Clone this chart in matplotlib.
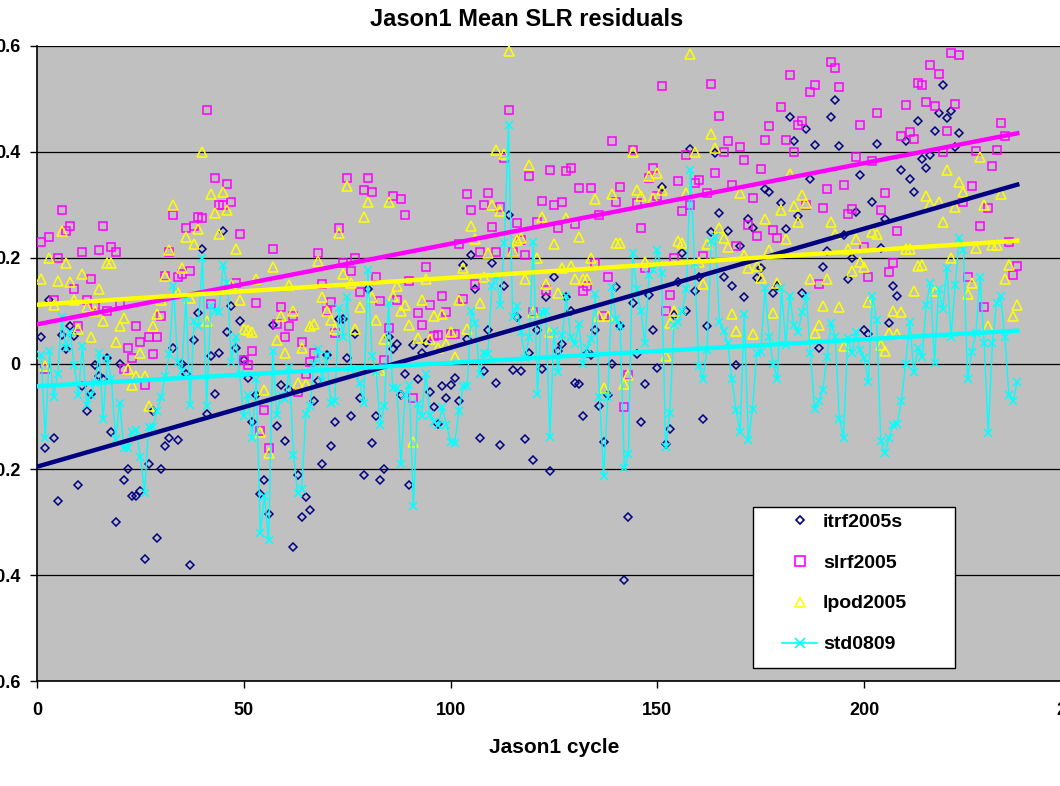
import numpy as np
import matplotlib.pyplot as plt
from matplotlib.lines import Line2D
from matplotlib.patches import Rectangle

plt.rcParams['font.family'] = ['Liberation Sans', 'DejaVu Sans']
plt.rcParams['font.weight'] = 'bold'

# Jason1 cycle numbers
cycles = np.arange(1, 238)

# mean SLR residuals per cycle
itrf2005s = [
    0.05, -0.16, 0.12, -0.14, -0.26, 0.054, 0.027, 0.07, 0.052, -0.23,
    -0.043, -0.09, -0.058, -0.003, -0.024, -0.03, 0.01, -0.13, -0.30, 0.0,
    -0.22, -0.20, -0.25, -0.25, -0.24, -0.37, -0.19, -0.09, -0.33, -0.20,
    -0.156, -0.14, 0.03, -0.144, 0.0, -0.02, -0.38, 0.044, 0.095, 0.217,
    -0.095, 0.014, -0.058, 0.02, 0.25, 0.06, 0.108, 0.03, 0.08, 0.007,
    -0.027, -0.11, -0.06, -0.247, -0.22, -0.285, 0.073, -0.119, -0.04, -0.146,
    -0.05, -0.346, -0.21, -0.29, -0.253, -0.277, -0.07, -0.034, -0.19, 0.017,
    -0.155, -0.11, 0.085, 0.085, 0.01, -0.10, 0.056, -0.066, -0.21, 0.14,
    -0.15, -0.10, -0.22, -0.20, 0.05, 0.028, 0.037, -0.06, -0.02, -0.23,
    0.035, -0.03, 0.02, 0.038, -0.053, -0.083, -0.114, -0.043, -0.065, -0.04,
    -0.028, -0.07, 0.186, 0.047, 0.205, 0.14, -0.14, -0.014, 0.063, 0.19,
    -0.036, -0.154, 0.147, 0.28, -0.012, 0.088, -0.014, -0.142, 0.02, -0.183,
    0.063, -0.01, 0.125, -0.203, 0.163, 0.024, 0.036, 0.125, 0.10, -0.037,
    -0.039, -0.10, 0.02, 0.017, 0.063, -0.08, -0.149, -0.06, 0.0, 0.144,
    0.07, -0.41, -0.29, 0.115, 0.018, -0.11, -0.039, 0.13, 0.064, -0.009,
    0.334, -0.153, -0.123, 0.092, 0.154, 0.208, 0.10, 0.405, 0.137, 0.164,
    -0.104, 0.071, 0.249, 0.397, 0.284, 0.164, 0.25, 0.146, -0.003, 0.222,
    0.126, 0.273, 0.256, 0.162, 0.181, 0.329, 0.325, 0.133, 0.146, 0.303,
    0.254, 0.465, 0.42, 0.279, 0.133, 0.443, 0.348, 0.413, 0.03, 0.183,
    0.212, 0.465, 0.498, 0.411, 0.243, 0.159, 0.199, 0.286, 0.356, 0.063,
    0.056, 0.306, 0.414, 0.219, 0.273, 0.077, 0.146, 0.128, 0.365, 0.42,
    0.348, 0.324, 0.458, 0.386, 0.37, 0.394, 0.439, 0.473, 0.527, 0.463,
    0.477, 0.41, 0.435,
] + [np.nan] * 14

slrf2005 = [
    0.23, -0.01, 0.24, 0.12, 0.20, 0.29, 0.25, 0.26, 0.14, 0.07,
    0.21, 0.12, 0.16, 0.11, 0.215, 0.26, 0.10, 0.22, 0.21, 0.115,
    -0.01, 0.03, 0.01, 0.07, 0.04, -0.04, 0.05, 0.018, 0.05, 0.09,
    0.165, 0.21, 0.28, 0.163, 0.17, 0.256, 0.174, 0.26, 0.277, 0.275,
    0.48, 0.112, 0.35, 0.30, 0.30, 0.34, 0.306, 0.153, 0.244, 0.007,
    -0.003, 0.024, 0.115, -0.127, -0.088, -0.16, 0.217, 0.075, 0.106, 0.05,
    0.07, 0.09, -0.054, 0.04, -0.02, 0.002, 0.02, 0.208, 0.15, 0.10,
    0.117, 0.058, 0.256, 0.19, 0.35, 0.174, 0.20, 0.135, 0.327, 0.35,
    0.325, 0.164, 0.118, 0.006, 0.067, 0.317, 0.12, 0.31, 0.28, 0.155,
    -0.066, 0.096, 0.072, 0.183, 0.11, 0.052, 0.054, 0.127, 0.098, 0.056,
    0.056, 0.225, 0.121, 0.32, 0.29, 0.15, 0.21, 0.30, 0.323, 0.258,
    0.21, 0.295, 0.388, 0.48, 0.21, 0.266, 0.234, 0.205, 0.355, 0.098,
    0.268, 0.307, 0.139, 0.366, 0.30, 0.256, 0.305, 0.363, 0.37, 0.264,
    0.332, 0.137, 0.146, 0.332, 0.19, 0.28, 0.09, 0.163, 0.42, 0.305,
    0.334, -0.083, -0.021, 0.403, 0.303, 0.257, 0.181, 0.35, 0.37, 0.317,
    0.525, 0.10, 0.13, 0.20, 0.344, 0.288, 0.394, 0.30, 0.342, 0.347,
    0.203, 0.322, 0.529, 0.36, 0.467, 0.40, 0.42, 0.338, 0.222, 0.41,
    0.384, 0.262, 0.313, 0.241, 0.367, 0.422, 0.448, 0.253, 0.238, 0.485,
    0.422, 0.545, 0.40, 0.45, 0.458, 0.30, 0.513, 0.527, 0.15, 0.293,
    0.33, 0.57, 0.559, 0.523, 0.337, 0.283, 0.292, 0.39, 0.45, 0.221,
    0.164, 0.382, 0.473, 0.291, 0.323, 0.173, 0.189, 0.251, 0.43, 0.489,
    0.438, 0.425, 0.53, 0.527, 0.494, 0.565, 0.486, 0.547, 0.40, 0.44,
    0.587, 0.49, 0.583, 0.305, 0.164, 0.336, 0.401, 0.26, 0.107, 0.293,
    0.373, 0.404, 0.454, 0.43, 0.229, 0.168, 0.185,
]

lpod2005 = [
    0.16, -0.005, 0.20, 0.11, 0.156, 0.25, 0.19, 0.154, 0.12, 0.066,
    0.17, 0.106, 0.05, 0.10, 0.14, 0.08, 0.19, 0.19, 0.04, 0.07,
    0.086, -0.01, -0.04, -0.024, 0.02, -0.024, -0.08, 0.071, 0.093, 0.12,
    0.165, 0.214, 0.30, 0.134, 0.18, 0.24, 0.124, 0.226, 0.254, 0.40,
    0.08, 0.32, 0.285, 0.244, 0.325, 0.29, 0.15, 0.217, 0.12, 0.066,
    0.063, 0.06, 0.16, -0.13, -0.05, -0.17, 0.183, 0.045, 0.09, 0.02,
    0.149, 0.10, -0.036, 0.03, -0.038, 0.07, 0.075, 0.193, 0.125, 0.10,
    0.083, 0.066, 0.247, 0.17, 0.336, 0.152, 0.066, 0.106, 0.276, 0.306,
    0.125, 0.083, -0.012, 0.047, 0.306, 0.127, 0.147, 0.10, 0.11, 0.073,
    -0.148, 0.049, 0.12, 0.16, 0.047, 0.09, 0.03, 0.094, 0.037, 0.06,
    0.013, 0.12, 0.18, 0.066, 0.26, 0.235, 0.115, 0.164, 0.208, 0.30,
    0.403, 0.288, 0.395, 0.59, 0.212, 0.234, 0.237, 0.16, 0.375, 0.097,
    0.20, 0.277, 0.15, 0.06, 0.225, 0.133, 0.18, 0.275, 0.185, 0.16,
    0.24, 0.16, 0.16, 0.20, 0.31, 0.09, -0.047, 0.09, 0.32, 0.228,
    0.228, -0.039, -0.022, 0.40, 0.327, 0.317, 0.191, 0.355, 0.313, 0.36,
    0.327, 0.015, 0.076, 0.10, 0.232, 0.228, 0.322, 0.584, 0.40, 0.191,
    0.15, 0.225, 0.434, 0.408, 0.257, 0.237, 0.22, 0.093, 0.062, 0.323,
    0.205, 0.181, 0.056, 0.185, 0.162, 0.274, 0.215, 0.095, 0.152, 0.291,
    0.235, 0.359, 0.298, 0.268, 0.319, 0.303, 0.159, 0.058, 0.073, 0.108,
    0.16, 0.268, 0.244, 0.106, 0.033, 0.217, 0.175, 0.235, 0.192, 0.183,
    0.116, 0.248, 0.244, 0.035, 0.024, 0.057, 0.10, 0.056, 0.098, 0.217,
    0.217, 0.137, 0.185, 0.187, 0.317, 0.302, 0.137, 0.306, 0.267, 0.365,
    0.20, 0.295, 0.343, 0.325, 0.132, 0.152, 0.219, 0.39, 0.30, 0.071,
    0.223, 0.223, 0.321, 0.16, 0.187, 0.089, 0.111,
]

std0809 = [
    0.017, -0.14, 0.024, -0.064, -0.02, 0.088, 0.03, 0.06, -0.003, -0.06,
    0.034, -0.078, -0.06, -0.037, 0.02, -0.105, 0.01, -0.03, -0.142, -0.075,
    -0.16, -0.16, -0.13, -0.125, -0.176, -0.244, -0.12, -0.12, -0.09, -0.064,
    -0.024, 0.018, 0.146, 0.003, -0.014, 0.125, -0.078, 0.08, 0.07, 0.20,
    -0.08, 0.108, 0.10, 0.098, 0.186, 0.152, 0.003, 0.05, -0.02, -0.10,
    -0.06, -0.14, -0.03, -0.32, -0.25, -0.334, 0.024, -0.098, -0.06, -0.068,
    -0.007, -0.173, -0.244, -0.237, -0.095, -0.08, 0.0, 0.027, -0.034, 0.017,
    -0.075, -0.07, 0.105, 0.05, 0.125, -0.01, -0.02, -0.037, -0.075, 0.176,
    0.015, -0.016, -0.117, -0.08, 0.115, -0.046, -0.046, -0.19, -0.06, -0.04,
    -0.27, -0.077, -0.10, -0.019, -0.098, -0.11, -0.117, -0.083, -0.117, -0.148,
    -0.151, -0.09, -0.043, -0.043, 0.10, 0.076, -0.02, 0.02, 0.018, 0.147,
    0.166, 0.11, 0.227, 0.45, 0.088, 0.108, 0.06, 0.01, 0.05, 0.23,
    -0.058, 0.098, 0.10, -0.138, 0.061, -0.016, 0.054, 0.127, 0.051, 0.037,
    0.075, 0.0, 0.03, 0.047, 0.131, -0.064, -0.212, -0.064, 0.144, 0.085,
    0.071, -0.197, -0.171, 0.208, 0.14, 0.10, 0.039, 0.167, 0.176, 0.215,
    0.171, -0.158, -0.094, 0.073, 0.079, 0.10, 0.14, 0.365, 0.188, -0.005,
    -0.029, 0.025, 0.232, 0.239, 0.079, 0.062, 0.039, -0.03, -0.087, -0.13,
    0.093, -0.144, -0.086, 0.019, 0.022, 0.143, 0.051, 0.0, -0.03, 0.143,
    0.035, 0.128, 0.073, 0.06, 0.098, 0.128, 0.019, -0.086, -0.07, -0.05,
    0.013, 0.076, 0.051, -0.105, -0.14, 0.048, 0.019, 0.06, 0.025, 0.01,
    -0.035, 0.127, 0.083, -0.146, -0.17, -0.14, -0.116, -0.114, -0.07, 0.0,
    0.079, -0.016, 0.029, 0.013, 0.111, 0.152, 0.001, 0.14, 0.103, 0.181,
    0.051, 0.149, 0.238, 0.215, -0.03, 0.022, 0.057, 0.164, 0.038, -0.132,
    0.038, 0.114, 0.128, 0.051, -0.06, -0.071, -0.035,
]

# linear trend lines as drawn on the chart (value at first / last cycle)
trend_cycles = [0, 237]
trend_itrf = [-0.195, 0.338]
trend_slrf = [0.074, 0.435]
trend_lpod = [0.111, 0.232]
trend_std = [-0.043, 0.062]

xticks = [0, 50, 100, 150, 200, 250]
yticks = [-0.6, -0.4, -0.2, 0, 0.2, 0.4, 0.6]
ytick_labels = ['-0.6', '-0.4', '-0.2', '0', '0.2', '0.4', '0.6']

navy = '#000080'
magenta = '#FF00FF'
yellow = '#FFFF00'
cyan = '#00FFFF'

fig = plt.figure(figsize=(10.6, 7.86), dpi=100)
ax = fig.add_axes([37 / 1060, 1 - 681 / 786, 1034 / 1060, 635 / 786])
ax.set_facecolor('#C0C0C0')

ax.plot(cycles, itrf2005s, ls='none', marker='D', ms=4.2, mfc='none',
        mec=navy, mew=1.1, zorder=3)
ax.plot(cycles, slrf2005, ls='none', marker='s', ms=6, mfc='none',
        mec=magenta, mew=1.1, zorder=3)
ax.plot(cycles, lpod2005, ls='none', marker='^', ms=7, mfc='none',
        mec=yellow, mew=1.1, zorder=3)
ax.plot(cycles, std0809, color=cyan, lw=1, marker='x', ms=6, mew=1.1,
        zorder=4)

ax.plot(trend_cycles, trend_itrf, color=navy, lw=3.2, zorder=5)
ax.plot(trend_cycles, trend_slrf, color=magenta, lw=3.2, zorder=5)
ax.plot(trend_cycles, trend_lpod, color=yellow, lw=3.2, zorder=5)
ax.plot(trend_cycles, trend_std, color=cyan, lw=3.2, zorder=5)

ax.set_xlim(0, 250)
ax.set_ylim(-0.6, 0.6)
ax.set_xticks(xticks)
ax.set_yticks(yticks)
ax.set_yticklabels(ytick_labels)
ax.tick_params(axis='both', direction='out', length=5, width=1,
               labelsize=13, colors='black')
ax.tick_params(axis='y', pad=7)
ax.tick_params(axis='x', pad=10)
ax.yaxis.grid(True, color='black', lw=0.9)
ax.set_axisbelow(True)
for s in ['top', 'right']:
    ax.spines[s].set_visible(False)
ax.spines['left'].set_linewidth(1.2)
ax.spines['bottom'].set_linewidth(1.2)

ax.set_xlabel('Jason1 cycle', fontsize=15, fontweight='bold', labelpad=14)
fig.text(527 / 1060, 1 - 20 / 786, 'Jason1 Mean SLR residuals',
         ha='center', va='center', fontsize=17, fontweight='bold')

# legend box
fig.patches.append(Rectangle((753 / 1060, 1 - 668 / 786), 202 / 1060,
                             161 / 786, transform=fig.transFigure,
                             facecolor='white', edgecolor='black', lw=1,
                             zorder=6))
handles = [
    Line2D([], [], ls='none', marker='D', ms=4.5, mfc='none', mec=navy, mew=1.2),
    Line2D([], [], ls='none', marker='s', ms=6.5, mfc='none', mec=magenta, mew=1.2),
    Line2D([], [], ls='none', marker='^', ms=7.5, mfc='none', mec=yellow, mew=1.2),
    Line2D([], [], color=cyan, lw=1.2, marker='x', ms=7, mew=1.2),
]
leg = fig.legend(handles, ['itrf2005s', 'slrf2005', 'lpod2005', 'std0809'],
                 loc='upper left', bbox_to_anchor=(782 / 1060, 1 - 513 / 786),
                 frameon=False, fontsize=14, handlelength=1.8,
                 handletextpad=0.3, labelspacing=1.2, borderpad=0,
                 borderaxespad=0)
leg.set_zorder(7)
for t in leg.get_texts():
    t.set_fontweight('bold')

fig.savefig('out.png', dpi=100)
